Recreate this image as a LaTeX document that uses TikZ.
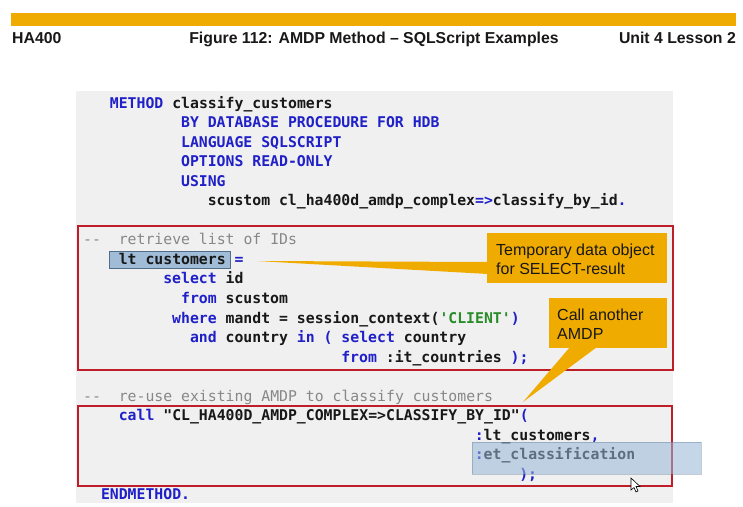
\documentclass[tikz,border=0pt]{standalone}
\usepackage{fontspec}
\newfontfamily\codefont{DejaVu Sans Mono}[Ligatures=TeXOff]
\newfontfamily\hdfont{Liberation Sans}
\definecolor{gold}{HTML}{F0AB00}
\definecolor{kw}{RGB}{32,32,200}
\definecolor{tx}{RGB}{24,24,24}
\definecolor{cm}{RGB}{135,135,135}
\definecolor{gr}{RGB}{40,140,40}
\definecolor{bgg}{RGB}{240,240,240}
\definecolor{redb}{RGB}{190,30,40}
\definecolor{hlf}{RGB}{160,188,214}
\definecolor{hld}{RGB}{80,110,140}
\definecolor{hl2}{RGB}{150,182,214}
\newcommand\kwc[1]{\textcolor{kw}{#1}}
\newcommand\grc[1]{\textcolor{gr}{#1}}
\def\cw{8.9}
\def\lh{19.55}
\tikzset{
  code/.style={anchor=base west, inner sep=0pt, text=tx,
    font={\codefont\bfseries\fontsize{14.8}{17}\selectfont}},
  cmtline/.style={anchor=base west, inner sep=0pt, text=cm,
    font={\codefont\fontsize{14.8}{17}\selectfont}},
  kwline/.style={code, text=kw},
  hdtext/.style={inner sep=0pt, text=tx, font={\hdfont\bfseries\fontsize{15.8}{19}\selectfont}},
  calltext/.style={anchor=base west, inner sep=0pt, text=tx, font={\hdfont\fontsize{16}{19}\selectfont}},
  callbox/.style={fill=gold, draw=none, inner sep=0pt, anchor=north west},
  redbox/.style={draw=redb, line width=1.6pt, fill=none, inner sep=0pt, anchor=north west},
}
\begin{document}
\begin{tikzpicture}[x=1pt,y=-1pt]
\useasboundingbox (0,0) rectangle (743,506);
\fill[white] (0,0) rectangle (743,506);
% header
\node[fill=gold, inner sep=0pt, minimum width=725pt, minimum height=13pt, anchor=north west] (bar) at (11,13) {};
\node[hdtext, anchor=base west] (hleft) at (12,43) {HA400};
\node[hdtext, anchor=base] (htitle) at (374,43) {Figure 112: AMDP Method – SQLScript Examples};
\node[hdtext, anchor=base east] (hright) at (736,43) {Unit 4 Lesson 2};
% code background
\node[fill=bgg, inner sep=0pt, minimum width=597pt, minimum height=412pt, anchor=north west] (bg) at (76,91) {};
% red boxes
\node[redbox, minimum width=595pt, minimum height=144pt] (rb1) at (77,225) {};
\node[redbox, minimum width=594pt, minimum height=80pt] (rb2) at (77,405) {};
% highlight of lt customers
\node[fill=hlf, draw=hld, line width=0.8pt, inner sep=0pt, minimum width=121pt, minimum height=17pt, anchor=north west] (hl1) at (109,251) {};
% code
\node[code] (l0) at ({83+3*\cw},{108+0*\lh}) {\kwc{METHOD} classify\_customers};
\node[kwline] (l1) at ({83+11*\cw},{108+1*\lh}) {BY DATABASE PROCEDURE FOR HDB};
\node[kwline] (l2) at ({83+11*\cw},{108+2*\lh}) {LANGUAGE SQLSCRIPT};
\node[kwline] (l3) at ({83+11*\cw},{108+3*\lh}) {OPTIONS READ-ONLY};
\node[kwline] (l4) at ({83+11*\cw},{108+4*\lh}) {USING};
\node[code] (l5) at ({83+14*\cw},{108+5*\lh}) {scustom cl\_ha400d\_amdp\_complex\kwc{=>}classify\_by\_id\kwc{.}};
\node[cmtline] (l7a) at ({83+0*\cw},{108+7*\lh}) {--};
\node[cmtline] (l7b) at ({83+4*\cw},{108+7*\lh}) {retrieve list of IDs};
\node[code] (l8a) at ({83+4*\cw},{108+8*\lh}) {lt customers};
\node[kwline] (l8b) at ({83+17*\cw},{108+8*\lh}) {=};
\node[code] (l9) at ({83+9*\cw},{108+9*\lh}) {\kwc{select} id};
\node[code] (l10) at ({83+11*\cw},{108+10*\lh}) {\kwc{from} scustom};
\node[code] (l11) at ({83+10*\cw},{108+11*\lh}) {\kwc{where} mandt = session\_context(\grc{'CLIENT'}\kwc{)}};
\node[code] (l12) at ({83+12*\cw},{108+12*\lh}) {\kwc{and} country \kwc{in ( select} country};
\node[code] (l13) at ({83+29*\cw},{108+13*\lh}) {\kwc{from} :it\_countries \kwc{);}};
\node[cmtline] (l15a) at ({83+0*\cw},{108+15*\lh}) {--};
\node[cmtline] (l15b) at ({83+4*\cw},{108+15*\lh}) {re-use existing AMDP to classify customers};
\node[code] (l16) at ({83+4*\cw},{108+16*\lh}) {\kwc{call} "CL\_HA400D\_AMDP\_COMPLEX=>CLASSIFY\_BY\_ID"\kwc{(}};
\node[code] (l17) at ({83+44*\cw},{108+17*\lh}) {\kwc{:}lt\_customers\kwc{,}};
\node[code] (l18) at ({83+44*\cw},{108+18*\lh}) {\kwc{:}et\_classification};
\node[kwline] (l19) at ({83+49*\cw},{108+19*\lh}) {);};
\node[kwline] (l20) at ({83+2*\cw},{108+20*\lh}) {ENDMETHOD.};
% callout 1
\coordinate (t1) at (257,261);
\node[callbox, minimum width=180pt, minimum height=50pt] (c1) at (487,233) {};
\fill[gold] (t1) -- (488,262) -- (488,274) -- cycle;
\node[calltext] (c1a) at (496,255) {Temporary data object};
\node[calltext] (c1b) at (496,274) {for SELECT-result};
% callout 2
\coordinate (t2) at (523,402);
\node[callbox, minimum width=118pt, minimum height=50pt] (c2) at (549,298) {};
\fill[gold] (t2) -- (570,347) -- (597,347) -- cycle;
\node[calltext] (c2a) at (557,320) {Call another};
\node[calltext] (c2b) at (557,339) {AMDP};
% translucent highlight
\node[fill=hl2, fill opacity=0.55, draw=hld, draw opacity=0.35, line width=0.6pt, inner sep=0pt, minimum width=229pt, minimum height=32pt, anchor=north west] (hl2) at (472,442) {};
% mouse cursor
\filldraw[fill=white, draw=black, line width=0.6pt] (631,478) -- (631,490) -- (634,487.5) -- (636,492) -- (638,491) -- (636,486.5) -- (640,486.5) -- cycle;
\end{tikzpicture}
\end{document}
